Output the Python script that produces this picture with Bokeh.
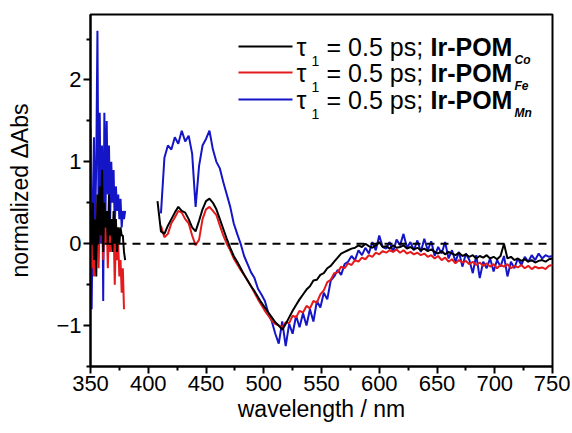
import math
from bokeh.plotting import figure
from bokeh.models import Range1d, Span, Label, Arrow, FixedTicker
from bokeh.embed import file_html
from bokeh.resources import INLINE

# ---------------- data ----------------
x_ticks = [350, 400, 450, 500, 550, 600, 650, 700, 750]
x_minor = [375, 425, 475, 525, 575, 625, 675, 725]
y_ticks = [-1, 0, 1, 2]
y_minor = [-1.5, -0.5, 0.5, 1.5, 2.5]

wl_uv = [350, 351, 352, 353, 354, 355, 356, 357, 358, 359, 360, 361, 362, 363, 364, 365,
         366, 367, 368, 369, 370, 371, 372, 373, 374, 375, 376, 377, 378, 379, 380]
co_uv = [0.40, 0.00, 0.50, -0.20, 0.30, -0.40, 0.60, 0.00, 0.70, 0.10, 0.90, -0.10, 0.50, 0.20, 0.40, 0.00,
         0.60, 0.10, 0.30, -0.10, 0.40, 0.00, 0.30, -0.10, 0.20, 0.00, 0.20, 0.10, 0.10, -0.10, -0.20]
fe_uv = [0.40, -0.30, 0.10, -0.40, 0.30, 0.00, 0.50, -0.30, 0.30, 0.10, 0.60, -0.20, 0.40, 0.00, 0.30, -0.30,
         0.20, -0.10, 0.30, 0.00, 0.20, -0.50, 0.10, -0.20, 0.00, -0.40, -0.20, -0.60, -0.30, -0.80, float("nan")]
mn_uv = [1.40, -0.80, 0.50, 1.30, 0.20, 1.00, 2.60, 0.30, 1.60, 0.00, 1.20, -0.70, 1.60, 0.40, 1.50, 0.60,
         1.20, 0.30, 1.00, 0.50, 0.90, 0.20, 0.70, 0.40, 0.60, 0.30, 0.55, 0.20, 0.40, 0.30, 0.40]

wl_vis = [408, 411, 414, 417, 420, 423, 426, 429, 432, 435, 438, 441, 444, 447, 450, 453, 456, 459,
          462, 465, 468, 471, 474, 477, 480, 483, 486, 489, 492, 495, 498, 501, 504, 507, 510, 513,
          516, 519, 522, 525, 528, 531, 534, 537, 540, 543, 546, 549, 552, 555, 558, 561, 564, 567,
          570, 573, 576, 579, 582, 585, 588, 591, 594, 597, 600, 603, 606, 609, 612, 615, 618, 621,
          624, 627, 630, 633, 636, 639, 642, 645, 648, 651, 654, 657, 660, 663, 666, 669, 672, 675,
          678, 681, 684, 687, 690, 693, 696, 699, 702, 705, 708, 711, 714, 717, 720, 723, 726, 729,
          732, 735, 738, 741, 744, 747, 750]
co_vis = [0.52, 0.15, 0.12, 0.22, 0.30, 0.38, 0.45, 0.40, 0.38, 0.30, 0.20, 0.15, 0.28, 0.42, 0.52, 0.55, 0.50, 0.42,
          0.30, 0.18, 0.06, -0.05, -0.15, -0.22, -0.30, -0.38, -0.45, -0.52, -0.58, -0.65, -0.72, -0.78, -0.84, -0.90, -0.96, -1.00,
          -1.05, -0.98, -0.90, -0.82, -0.75, -0.68, -0.62, -0.56, -0.52, -0.45, -0.44, -0.38, -0.36, -0.30, -0.27, -0.22, -0.17, -0.12,
          -0.10, -0.08, -0.06, -0.05, -0.02, -0.04, 0.00, -0.03, -0.05, -0.02, 0.02, -0.04, -0.03, -0.06, -0.02, -0.05, -0.04, -0.02,
          -0.06, -0.04, -0.07, -0.05, -0.08, -0.06, -0.09, -0.07, -0.10, -0.12, -0.09, -0.13, -0.10, -0.12, -0.14, -0.11, -0.15, -0.13,
          -0.16, -0.14, -0.18, -0.15, -0.17, -0.14, -0.18, -0.16, -0.19, -0.15, 0.00, -0.18, -0.16, -0.20, -0.18, -0.21, -0.19, -0.22,
          -0.20, -0.23, -0.21, -0.20, -0.22, -0.19, -0.18]
fe_vis = [float("nan"), 0.22, 0.08, 0.12, 0.25, 0.32, 0.40, 0.38, 0.30, 0.25, 0.10, -0.02, 0.05, 0.30, 0.42, 0.45, 0.40, 0.35,
          0.22, 0.10, 0.00, -0.08, -0.18, -0.25, -0.32, -0.38, -0.45, -0.52, -0.60, -0.68, -0.75, -0.82, -0.88, -0.94, -0.98, -1.00,
          -1.02, -0.96, -0.97, -0.88, -0.90, -0.82, -0.84, -0.76, -0.79, -0.70, -0.72, -0.62, -0.57, -0.47, -0.44, -0.36, -0.35, -0.28,
          -0.30, -0.24, -0.26, -0.20, -0.22, -0.17, -0.19, -0.14, -0.16, -0.11, -0.13, -0.09, -0.11, -0.08, -0.10, -0.07, -0.11, -0.08,
          -0.12, -0.10, -0.13, -0.11, -0.14, -0.12, -0.16, -0.14, -0.18, -0.15, -0.20, -0.17, -0.22, -0.19, -0.24, -0.20, -0.23, -0.21,
          -0.25, -0.22, -0.26, -0.23, -0.27, -0.24, -0.28, -0.25, -0.30, -0.26, -0.28, -0.25, -0.30, -0.27, -0.29, -0.26, -0.30, -0.27,
          -0.31, -0.28, -0.30, -0.29, -0.31, -0.27, -0.26]
mn_vis = [float("nan"), 0.37, 1.05, 1.20, 1.15, 1.30, 1.22, 1.38, 1.25, 1.32, 1.10, 0.45, 0.95, 1.20, 1.28, 1.38, 1.15, 1.00,
          0.92, 0.75, 0.60, 0.45, 0.25, 0.12, 0.00, -0.15, -0.25, -0.35, -0.42, -0.55, -0.62, -0.70, -0.85, -0.95, -1.10, -1.22,
          -0.95, -1.25, -0.98, -1.10, -0.88, -1.02, -0.85, -1.00, -0.80, -0.95, -0.70, -0.78, -0.60, -0.68, -0.45, -0.40, -0.32, -0.38,
          -0.25, -0.22, -0.15, -0.20, -0.08, -0.14, -0.05, -0.12, 0.02, -0.08, 0.10, -0.04, -0.06, 0.02, -0.10, 0.05, -0.02, 0.12,
          -0.05, 0.02, -0.08, 0.04, -0.10, 0.06, -0.08, 0.03, -0.15, -0.04, -0.12, 0.02, -0.18, -0.08, -0.22, -0.10, -0.28, -0.12,
          -0.20, -0.36, -0.14, -0.42, -0.22, -0.30, -0.18, -0.34, -0.20, -0.28, -0.15, -0.40, -0.22, -0.30, -0.18, -0.26, -0.16, -0.22,
          -0.14, -0.20, -0.12, -0.18, -0.14, -0.16, -0.15]

series_names = ["Co", "Fe", "Mn"]
series_colors = ["#000000", "#e41a1c", "#1515c8"]

NAN = float("nan")
def joined(a, b):
    return list(a) + [NAN] + list(b)

wl_all = joined(wl_uv, wl_vis)
ys = {"Co": joined(co_uv, co_vis), "Fe": joined(fe_uv, fe_vis), "Mn": joined(mn_uv, mn_vis)}

# ---------------- figure ----------------
FW, FH = 462, 352
FONT = "Liberation Sans"
p = figure(frame_width=FW, frame_height=FH, output_backend="svg", toolbar_location=None,
           x_range=Range1d(350, 750), y_range=Range1d(-1.5, 2.8),
           min_border_left=90, min_border_right=18, min_border_top=14, min_border_bottom=50)
p.grid.visible = False
p.outline_line_color = "black"
p.outline_line_width = 2
p.background_fill_color = "white"
p.border_fill_color = "white"

p.xaxis.ticker = FixedTicker(ticks=x_ticks, minor_ticks=x_minor)
p.yaxis.ticker = FixedTicker(ticks=y_ticks, minor_ticks=y_minor)
for ax in (p.xaxis[0], p.yaxis[0]):
    ax.axis_line_width = 2
    ax.major_tick_line_width = 2
    ax.minor_tick_line_width = 2
    ax.major_tick_out = 7
    ax.major_tick_in = 0
    ax.minor_tick_out = 4
    ax.minor_tick_in = 0
    ax.major_label_text_font = FONT
    ax.major_label_text_font_size = "22px"
    ax.major_label_text_color = "black"
    ax.axis_label_text_font = FONT
    ax.axis_label_text_font_size = "23px"
    ax.axis_label_text_font_style = "normal"
    ax.axis_label_text_color = "black"
    ax.major_label_standoff = 2
p.xaxis.axis_label = "wavelength / nm"
p.yaxis.axis_label = "normalized \u0394Abs"
p.xaxis.axis_label_standoff = 2
p.yaxis.axis_label_standoff = 20

p.add_layout(Span(location=0, dimension="width", line_color="black", line_width=2, line_dash="8 6"))

for name in ["Mn", "Fe", "Co"]:
    c = series_colors[series_names.index(name)]
    p.line(wl_all, ys[name], line_color=c, line_width=2)

# ---------------- legend (manual, with subscripts; screen units are frame-relative, y up) ----------------
rows_y = [320, 294, 267]
for name, c, yy in zip(series_names, series_colors, rows_y):
    p.add_layout(Arrow(end=None, x_start=148, y_start=yy, x_end=202, y_end=yy,
                       start_units="screen", end_units="screen", line_color=c, line_width=2))
    p.add_layout(Label(x=206, y=yy, x_units="screen", y_units="screen", text="\u03c4",
                       text_font=FONT, text_font_size="25px", text_baseline="middle",
                       text_color="black"))
    p.add_layout(Label(x=221, y=yy - 14, x_units="screen", y_units="screen", text="1",
                       text_font=FONT, text_font_size="14px", text_baseline="middle",
                       text_color="black"))
    p.add_layout(Label(x=236, y=yy, x_units="screen", y_units="screen", text="= 0.5 ps;",
                       text_font=FONT, text_font_size="25px", text_baseline="middle",
                       text_color="black"))
    p.add_layout(Label(x=340, y=yy, x_units="screen", y_units="screen", text="Ir-POM",
                       text_font=FONT, text_font_size="25px", text_font_style="bold",
                       text_baseline="middle", text_color="black"))
    p.add_layout(Label(x=424, y=yy - 13, x_units="screen", y_units="screen", text=name,
                       text_font=FONT, text_font_size="12px", text_font_style="bold italic",
                       text_baseline="middle", text_color="black"))

open("out.html", "w").write(file_html(p, INLINE))
